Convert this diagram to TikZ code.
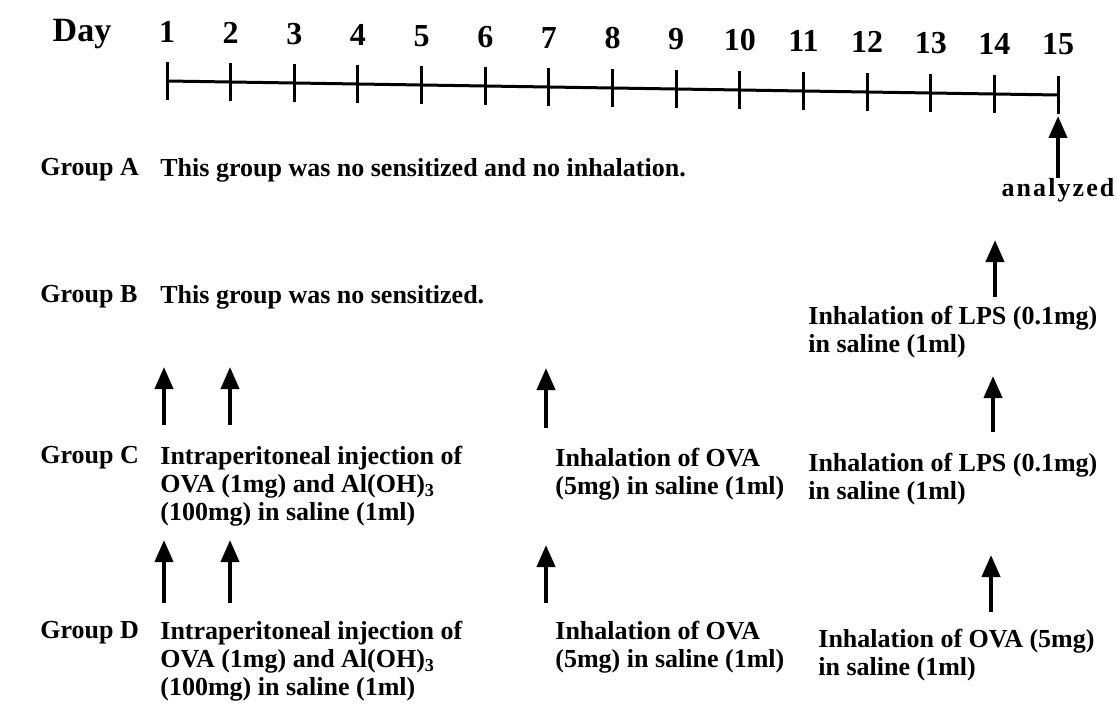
\documentclass[tikz,border=0pt]{standalone}
\usepackage{fontspec}
\setmainfont{Liberation Serif}
\usepackage{tikz}
\usetikzlibrary{arrows.meta,positioning}
\tikzset{
    % Base text style
    basetext/.style={
        inner sep=0pt,
        align=left,
        anchor=west,
        font=\fontsize{13}{14}\selectfont\bfseries
    },
    % Group label style
    grouplabel/.style={
        basetext
    },
    % Day number style
    daynum/.style={
        inner sep=0pt,
        anchor=base,
        font=\fontsize{16}{18}\selectfont\bfseries
    },
    % Timeline style
    timeline/.style={
        line width=1.5pt,
        draw=black
    },
    % Up arrow style
    uparrow/.style={
        -{Triangle[length=11pt,width=9pt]},
        line width=2pt,
        draw=black
    }
}

\begin{document}
\begin{tikzpicture}[x=0.5pt,y=-0.5pt]
    \useasboundingbox (0,0) rectangle (1117,711);
    % time axis (slightly tilted, as in the scan)
    \node[daynum,font=\fontsize{17}{20}\selectfont\bfseries] (day) at (82,42) {Day};
    \foreach \d in {1,...,15}{
        \coordinate (t\d) at ({167+63.65*(\d-1)},{81+(\d-1)});
        \node[daynum] (n\d) at ({167+63.65*(\d-1)},{43+0.85*(\d-1)}) {\d};
        \draw[timeline] ([yshift=9.5pt]t\d) -- ([yshift=-9.5pt]t\d);
    }
    \draw[timeline] (t1) -- (t15);
    \node[basetext,anchor=center] (an) at (1058,190) {\addfontfeature{LetterSpace=8}analyzed};
    \coordinate (an1) at (1058,116);
    \draw[uparrow] (an) -- (an1);

    % Group A
    \node[grouplabel] (ga) at (40,170) {Group A};
    \node[basetext] (ta) at (160,170) {This group was no sensitized and no inhalation.};

    % Group B
    \node[grouplabel] (gb) at (40,297) {Group B};
    \node[basetext] (tb) at (160,297) {This group was no sensitized.};
    \node[basetext] (br) at (808,332) {Inhalation of LPS (0.1mg)\\in saline (1ml)};
    \coordinate (b0) at (995,297);
    \coordinate (b1) at (995,240);
    \draw[uparrow] (b0) -- (b1);

    % Group C
    \node[grouplabel] (gc) at (40,458) {Group C};
    \node[basetext] (ci) at (160,486) {Intraperitoneal injection of\\OVA (1mg) and Al(OH)\textsubscript{3}\\(100mg) in saline (1ml)};
    \node[basetext] (cm) at (555,474) {Inhalation of OVA\\(5mg) in saline (1ml)};
    \node[basetext] (cr) at (808,479) {Inhalation of LPS (0.1mg)\\in saline (1ml)};
    \coordinate (c10) at (164,425);
    \coordinate (c11) at (164,367);
    \coordinate (c20) at (230,425);
    \coordinate (c21) at (230,367);
    \coordinate (c70) at (546,428);
    \coordinate (c71) at (546,368);
    \coordinate (c140) at (993,432);
    \coordinate (c141) at (993,376);
    \draw[uparrow] (c10) -- (c11);
    \draw[uparrow] (c20) -- (c21);
    \draw[uparrow] (c70) -- (c71);
    \draw[uparrow] (c140) -- (c141);

    % Group D
    \node[grouplabel] (gd) at (40,633) {Group D};
    \node[basetext] (di) at (160,661) {Intraperitoneal injection of\\OVA (1mg) and Al(OH)\textsubscript{3}\\(100mg) in saline (1ml)};
    \node[basetext] (dm) at (555,647) {Inhalation of OVA\\(5mg) in saline (1ml)};
    \node[basetext] (dr) at (818,655) {Inhalation of OVA (5mg)\\in saline (1ml)};
    \coordinate (d10) at (164,603);
    \coordinate (d11) at (164,540);
    \coordinate (d20) at (230,603);
    \coordinate (d21) at (230,540);
    \coordinate (d70) at (546,603);
    \coordinate (d71) at (546,545);
    \coordinate (d140) at (991,612);
    \coordinate (d141) at (991,555);
    \draw[uparrow] (d10) -- (d11);
    \draw[uparrow] (d20) -- (d21);
    \draw[uparrow] (d70) -- (d71);
    \draw[uparrow] (d140) -- (d141);
\end{tikzpicture}
\end{document}
